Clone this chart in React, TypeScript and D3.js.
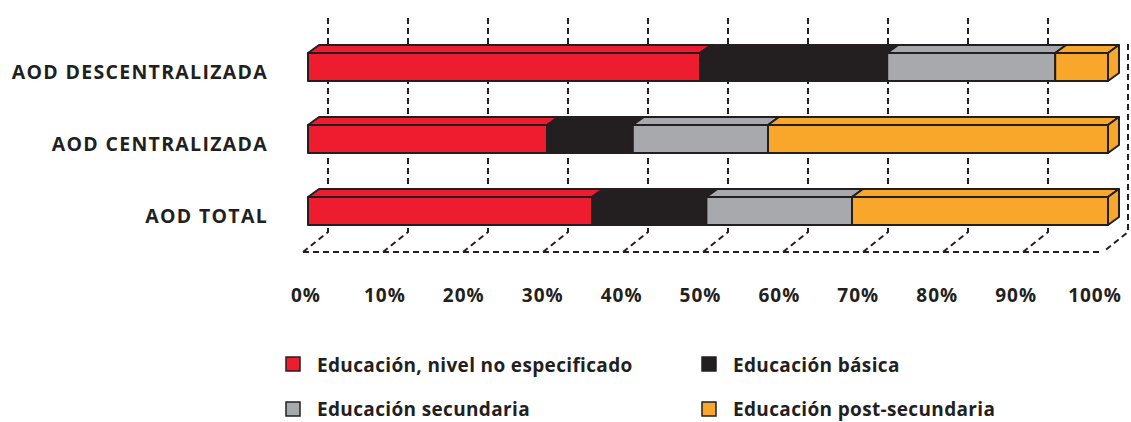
import React from "react";
import * as d3 from "d3";

const categories = ["AOD DESCENTRALIZADA", "AOD CENTRALIZADA", "AOD TOTAL"];
const seriesNames = [
  "Educación, nivel no especificado",
  "Educación básica",
  "Educación secundaria",
  "Educación post-secundaria",
];
const noEspecificado = [49.0, 29.9, 35.5];
const basica = [23.4, 10.7, 14.3];
const secundaria = [21.0, 16.9, 18.2];
const postSecundaria = [6.6, 42.5, 32.0];
const tickValues = [0, 10, 20, 30, 40, 50, 60, 70, 80, 90, 100];
const colors = ["#ED1C2E", "#231F20", "#A7A9AC", "#F9A72B"];

const INK = "#231F20";
const FONT = "'Open Sans', 'DejaVu Sans', sans-serif";

export default function App() {
  const W = 1131;
  const H = 422;
  const x = d3.scaleLinear().domain([0, 100]).range([308, 1108]);
  const xLabel = d3.scaleLinear().domain([0, 100]).range([306, 1095]);
  const y = d3.scalePoint<string>().domain(categories).range([67, 211]);
  const barH = 28;
  const dx = 11;
  const dy = -8;
  const gdx = 20; // grid back offset
  const gridTop = 18;
  const gridBottom = 232;
  const floorY = 252;
  const floorDx = -25;

  const series = [noEspecificado, basica, secundaria, postSecundaria];
  const rows = categories.map((c, i) => {
    let acc = 0;
    const segs = series.map((s, k) => {
      const x0 = acc;
      acc += s[i];
      return { k, x0, x1: acc };
    });
    return { c, segs };
  });

  const dash = "6,4";

  return (
    <svg width={W} height={H} style={{ display: "block", position: "absolute", left: 0, top: 0 }}>
      <rect width={W} height={H} fill="#fff" />
      {/* grid */}
      <g stroke={INK} strokeWidth={2} fill="none" strokeDasharray={dash}>
        {tickValues.map((t) => {
          const gx = x(t) + gdx;
          return (
            <path
              key={t}
              d={`M${gx},${t === 100 ? 44 : gridTop}L${gx},${gridBottom}L${gx + floorDx},${floorY}`}
            />
          );
        })}
        <path d={`M${x(0) + gdx + floorDx},${floorY}L${x(100) + gdx + floorDx - 3},${floorY}`} />
      </g>
      {/* bars */}
      {rows.map((r) => {
        const top = (y(r.c) as number) - barH / 2;
        return (
          <g key={r.c} stroke={INK} strokeWidth={2} strokeLinejoin="round">
            {r.segs.map((s, idx) => {
              const a = x(s.x0);
              const b = x(s.x1);
              const isLast = idx === r.segs.length - 1;
              return (
                <g key={s.k} fill={colors[s.k]}>
                  <polygon
                    points={`${a},${top} ${a + dx},${top + dy} ${b + dx},${top + dy} ${b},${top}`}
                  />
                  <rect x={a} y={top} width={b - a} height={barH} />
                  {isLast && (
                    <polygon
                      points={`${b},${top} ${b + dx},${top + dy} ${b + dx},${top + dy + barH} ${b},${top + barH}`}
                    />
                  )}
                </g>
              );
            })}
          </g>
        );
      })}
      {/* category labels */}
      {categories.map((c) => (
        <text
          key={c}
          x={268}
          y={(y(c) as number) + 12}
          textAnchor="end"
          fontFamily={FONT}
          fontWeight={700}
          fontSize={19.5}
          letterSpacing={1.3}
          fill={INK}
        >
          {c}
        </text>
      ))}
      {/* tick labels */}
      {tickValues.map((t) => (
        <text
          key={t}
          x={xLabel(t)}
          y={302}
          textAnchor="middle"
          fontFamily={FONT}
          fontWeight={700}
          fontSize={19}
          letterSpacing={1}
          fill={INK}
        >
          {`${t}%`}
        </text>
      ))}
      {/* legend */}
      {seriesNames.map((n, i) => {
        const col = i % 2;
        const row = Math.floor(i / 2);
        const lx = col === 0 ? 286 : 702;
        const ly = 357 + row * 45;
        return (
          <g key={n}>
            <rect x={lx} y={ly} width={14} height={14} fill={colors[i]} stroke={INK} strokeWidth={1.5} />
            <text
              x={lx + 31}
              y={ly + (row === 0 ? 15 : 14)}
              fontFamily={FONT}
              fontWeight={700}
              fontSize={19}
              letterSpacing={0.35}
              fill={INK}
            >
              {n}
            </text>
          </g>
        );
      })}
    </svg>
  );
}
